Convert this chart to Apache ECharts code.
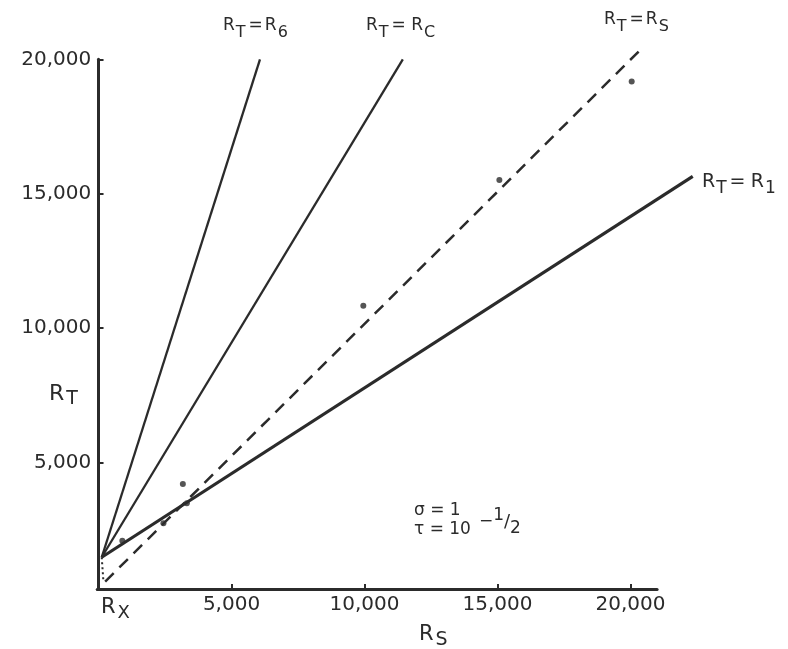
<!DOCTYPE html>
<html>
<head>
<meta charset="utf-8">
<script src="https://cdn.jsdelivr.net/npm/echarts@6/dist/echarts.min.js"></script>
<style>
html,body{margin:0;padding:0;background:#fff;}
#c{width:788px;height:649px;}
</style>
</head>
<body>
<div id="c"></div>
<script>
// ---- data ----
const xTickValues = [5000, 10000, 15000, 20000];
const xTickLabels = ['5,000', '10,000', '15,000', '20,000'];
const yTickValues = [5000, 10000, 15000, 20000];
const yTickLabels = ['5,000', '10,000', '15,000', '20,000'];

const lineR6 = [[120, 1484], [6070, 20000]];
const lineRC = [[120, 1484], [11440, 20000]];
const lineRS = [[250, 580], [20500, 20480]];
const lineR1 = [[120, 1484], [22340, 15650]];
const lineRX = [[120, 1484], [180, 640]];
const points = [[895, 2100], [2440, 2750], [3170, 4210], [3320, 3490], [9955, 10840], [15070, 15510], [20045, 19170]];

// ---- chart ----
const FONT = 'DejaVu Sans';
const INK = '#2b2b2b';
const chart = echarts.init(document.getElementById('c'), null, {renderer: 'canvas'});

const L = 30;
function label(x, y, text, big, small, d, sp) {
  const p = sp == null ? 1 : sp;
  return {
    type: 'text', left: x, top: y, silent: true,
    style: {
      text: text, fill: INK,
      rich: {
        r: {fontSize: big, fontFamily: FONT, color: INK, lineHeight: L, verticalAlign: 'middle'},
        e: {fontSize: big, fontFamily: FONT, color: INK, lineHeight: L, verticalAlign: 'middle', padding: [0, 2, 0, 2]},
        s: {fontSize: small, fontFamily: FONT, color: INK, lineHeight: L - 2 * d, verticalAlign: 'bottom', padding: [0, p, 0, p]}
      }
    }
  };
}
function lineSeries(data, width, type, idx) {
  return {
    type: 'line', data: data, symbol: 'none', clip: false, silent: true,
    xAxisIndex: idx || 0, yAxisIndex: idx || 0,
    lineStyle: {color: INK, width: width, type: type || 'solid'}
  };
}

// same pixel scale for both grids
const GL = 97.2, GT = 59.3, GB = 59.9;
const XMIN = -50, XMAX = 21000, XMAX2 = 22600;
const pxPerUnit = 559.9 / (XMAX - XMIN);
const hiddenAxis = {show: false, splitLine: {show: false}};

const option = {
  backgroundColor: '#ffffff',
  animation: false,
  grid: [
    {left: GL, right: 788 - GL - (XMAX - XMIN) * pxPerUnit, top: GT, bottom: GB},
    {left: GL, right: 788 - GL - (XMAX2 - XMIN) * pxPerUnit, top: GT, bottom: GB}
  ],
  xAxis: [{
    type: 'value', min: XMIN, max: XMAX, gridIndex: 0,
    splitLine: {show: false},
    axisLine: {show: true, lineStyle: {color: INK, width: 3}},
    axisTick: {show: true, inside: true, length: 5, customValues: xTickValues, lineStyle: {color: INK, width: 2}},
    axisLabel: {
      customValues: xTickValues, margin: 6, fontSize: 20, fontFamily: FONT, color: INK,
      formatter: v => xTickLabels[xTickValues.indexOf(v)]
    }
  }, Object.assign({type: 'value', min: XMIN, max: XMAX2, gridIndex: 1}, hiddenAxis)],
  yAxis: [{
    type: 'value', min: 300, max: 20000, gridIndex: 0,
    splitLine: {show: false},
    axisLine: {show: true, lineStyle: {color: INK, width: 3}},
    axisTick: {show: true, inside: true, length: 5, customValues: yTickValues, lineStyle: {color: INK, width: 2}},
    axisLabel: {
      customValues: yTickValues, margin: 6, fontSize: 20, fontFamily: FONT, color: INK,
      formatter: v => yTickLabels[yTickValues.indexOf(v)]
    }
  }, Object.assign({type: 'value', min: 300, max: 20000, gridIndex: 1}, hiddenAxis)],
  series: [
    lineSeries(lineR6, 2.3),
    lineSeries(lineRC, 2.3),
    lineSeries(lineR1, 3.2, 'solid', 1),
    lineSeries(lineRS, 2.5, [12, 8]),
    lineSeries(lineRX, 2, [2, 3]),
    {
      type: 'scatter', data: points, symbol: 'circle', symbolSize: 6, clip: false, silent: true,
      itemStyle: {color: INK}
    }
  ],
  graphic: [
    label(223, 17, '{r|R}{s|T}{e|=}{r|R}{s|6}', 17, 16, 9),
    label(366, 17, '{r|R}{s|T}{e|=} {r|R}{s|C}', 17, 16, 9),
    label(604, 11, '{r|R}{s|T}{e|=}{r|R}{s|S}', 17, 16, 9),
    label(702, 173, '{r|R}{s|T}{e|=} {r|R}{s|1}', 19, 17, 9),
    label(101, 597, '{r|R}{s|X}', 21, 18, 12, 2),
    label(419, 624, '{r|R}{s|S}', 21, 19, 10, 2),
    label(49, 383, '{r|R}{s|T}', 22, 19, 12, 2),
    {type: 'text', left: 414, top: 502, silent: true,
     style: {text: 'σ = 1', fontSize: 17, fontFamily: FONT, fill: INK}},
    {type: 'text', left: 414, top: 521, silent: true,
     style: {text: 'τ = 10', fontSize: 17, fontFamily: FONT, fill: INK}},
    {type: 'text', left: 479, top: 507, silent: true,
     style: {
       text: '{m|−}{a|1}{b|/}{c|2}', fill: INK,
       rich: {
         m: {fontSize: 17, fontFamily: FONT, color: INK, lineHeight: 30, verticalAlign: 'middle'},
         a: {fontSize: 17, fontFamily: FONT, color: INK, lineHeight: 18, verticalAlign: 'top'},
         b: {fontSize: 18, fontFamily: FONT, color: INK, lineHeight: 30, verticalAlign: 'middle'},
         c: {fontSize: 17, fontFamily: FONT, color: INK, lineHeight: 14, verticalAlign: 'bottom'}
       }
     }}
  ]
};
chart.setOption(option);
</script>
</body>
</html>
